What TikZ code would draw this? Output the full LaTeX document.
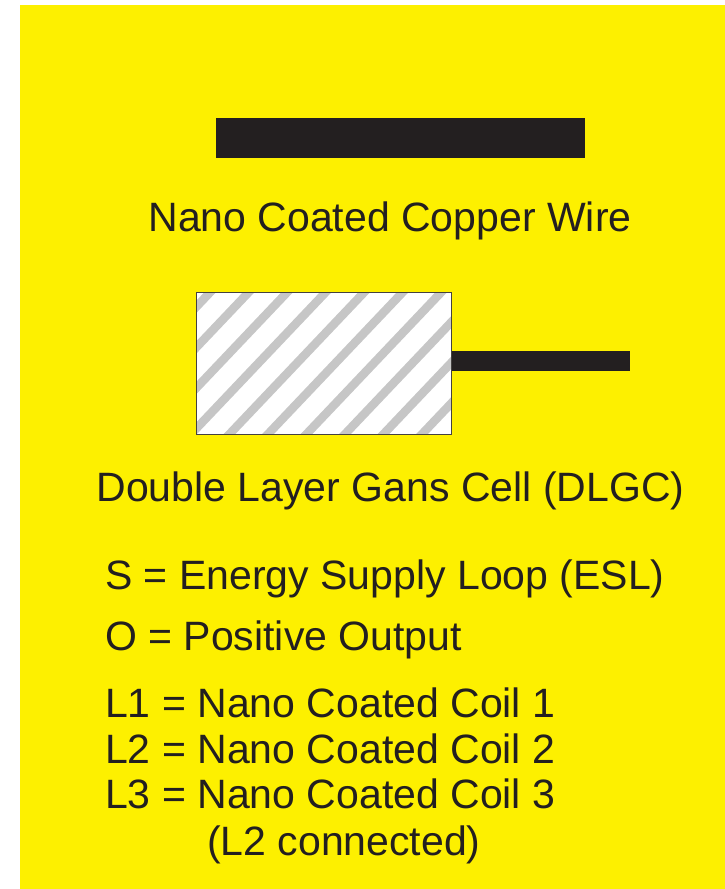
\documentclass[tikz,border=0pt]{standalone}
\usepackage{fontspec}
\setmainfont{Liberation Sans}
\definecolor{bgyellow}{RGB}{253,240,0}
\definecolor{ink}{RGB}{35,31,32}
\begin{document}
\begin{tikzpicture}[x=1pt,y=-1pt,
  lbl/.style={inner sep=0pt,text=ink,font=\fontsize{41}{49}\selectfont},
  bar/.style={fill=ink,draw=none},
  hatchline/.style={draw=gray!45,line width=8.5pt}]
\useasboundingbox (0,0) rectangle (725,889);
\fill[white] (0,0) rectangle (725,889);
\fill[bgyellow] (20,5) rectangle (725,889);
% copper wire
\path[bar] (216,118) rectangle (585,158);
\node[lbl,anchor=base] (wire) at (390,231) {Nano Coated Copper Wire};
% DLGC
\path[bar] (450,351) rectangle (630,371);
\fill[white] (196,292) rectangle (451,434);
\begin{scope}
\clip (196,292) rectangle (451,434);
\foreach \k in {-1,...,10}{
  \draw[hatchline] (68+38.5*\k,434+8) -- (210+38.5*\k+8,292-8);
}
\end{scope}
\draw[draw=ink!85,line width=1pt] (196,292) rectangle (451,434);
\node[lbl,anchor=base] (dlgc) at (390.5,501) {Double Layer Gans Cell (DLGC)};
% legend
\node[lbl,anchor=base west] (s) at (105,589) {S = Energy Supply Loop (ESL)};
\node[lbl,anchor=base west] (o) at (105,650) {O = Positive Output};
\node[lbl,anchor=base west] (l1) at (105,717) {L1 = Nano Coated Coil 1};
\node[lbl,anchor=base west] (l2) at (105,763) {L2 = Nano Coated Coil 2};
\node[lbl,anchor=base west] (l3) at (105,808) {L3 = Nano Coated Coil 3};
\node[lbl,anchor=base west] (l2c) at (207,855) {(L2 connected)};
\end{tikzpicture}
\end{document}
